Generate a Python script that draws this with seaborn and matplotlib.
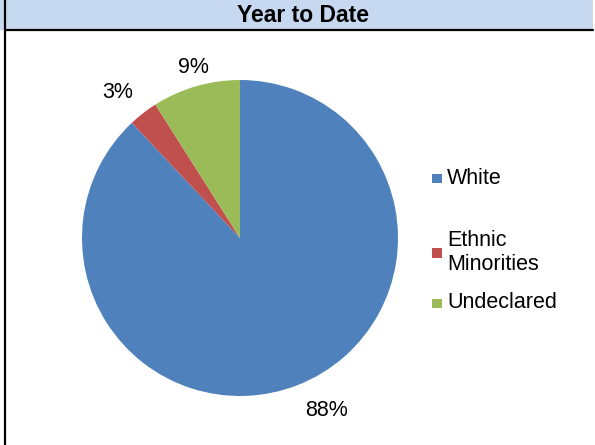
import matplotlib
matplotlib.use("Agg")
import matplotlib.pyplot as plt
from matplotlib.patches import Rectangle
from matplotlib.lines import Line2D
import numpy as np
import seaborn as sns

# Year-to-date breakdown
categories = ["White", "Ethnic Minorities", "Undeclared"]
legend_labels = ["White", "Ethnic\nMinorities", "Undeclared"]
shares = [88, 3, 9]
title = "Year to Date"

sns.set_theme(style="white")
plt.rcParams["font.family"] = ["Liberation Sans", "DejaVu Sans"]

colors = ["#4F81BD", "#C0504D", "#9BBB59"]
# radial distance and angular nudge (degrees) for each percentage label
label_dist = [1.22, 1.20, 1.12]
label_nudge = [5.2, 2.3, -0.9]

W, H = 595, 445
fig = plt.figure(figsize=(W / 100, H / 100), dpi=100)
fig.patch.set_facecolor("white")

def px(x, y):
    return x / W, 1 - y / H

# header band
x0, y0 = px(0, 29.5)
fig.patches.append(Rectangle((x0, y0), 593 / W, 29.5 / H, transform=fig.transFigure,
                             facecolor="#C6D9F1", edgecolor="none", zorder=0))
fig.lines.append(Line2D([4.5 / W, 593 / W], [1 - 30 / H, 1 - 30 / H], transform=fig.transFigure,
                        color="black", lw=1.6))
fig.lines.append(Line2D([4.5 / W, 4.5 / W], [0, 1], transform=fig.transFigure,
                        color="black", lw=1.6))
fig.text(303 / W, 1 - 15 / H, title, ha="center", va="center",
         fontsize=16.5, fontweight="bold", color="black")

# pie
cx, cy, r = 240, 238, 158
ax = fig.add_axes([(cx - r) / W, 1 - (cy + r) / H, 2 * r / W, 2 * r / H])
wedges, texts, autotexts = ax.pie(
    shares, colors=colors, startangle=90, counterclock=False,
    autopct=lambda p: f"{p:.0f}%", pctdistance=1.2,
    wedgeprops=dict(linewidth=0),
    textprops=dict(fontsize=15.5, color="black"),
)
for w, t, d, n in zip(wedges, autotexts, label_dist, label_nudge):
    mid = np.deg2rad((w.theta1 + w.theta2) / 2 + n)
    t.set_position((d * np.cos(mid), d * np.sin(mid)))
ax.set_xlim(-1, 1)
ax.set_ylim(-1, 1)
ax.set_aspect("equal")
ax.axis("off")

# legend entries
legend_y = [178, 252.5, 303]
for lab, col, ly in zip(legend_labels, colors, legend_y):
    fig.patches.append(Rectangle(px(432, ly + 5), 9.5 / W, 9.5 / H, transform=fig.transFigure,
                                 facecolor=col, edgecolor="none"))
    fig.text(447 / W, 1 - ly / H, lab, ha="left", va="center", fontsize=15.5,
             color="black", linespacing=1.2)

fig.savefig("out.png", dpi=100)
